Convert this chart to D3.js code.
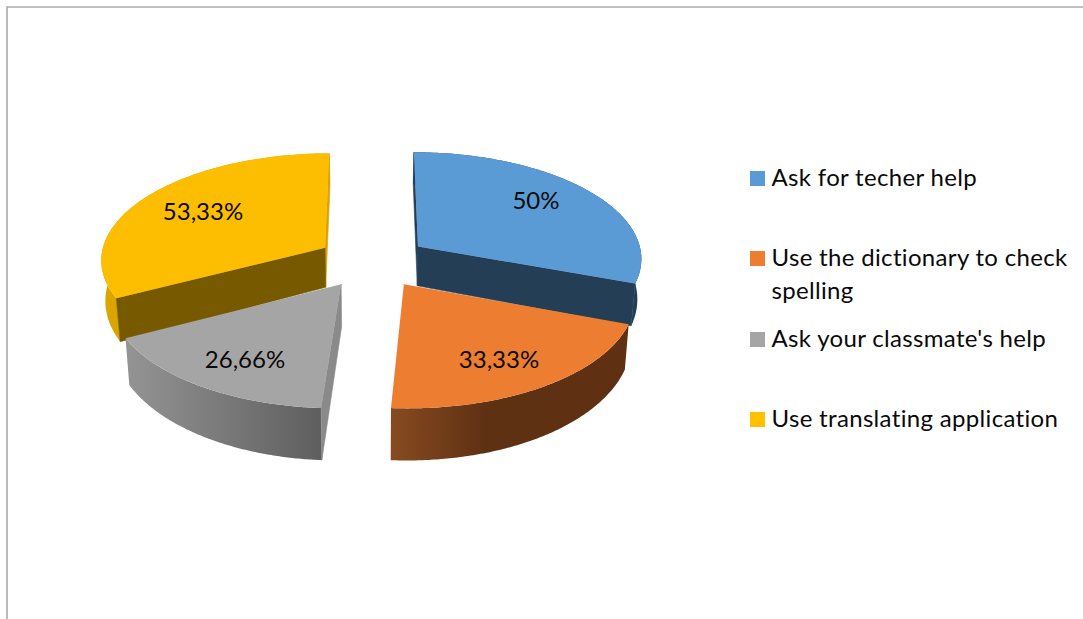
<!DOCTYPE html>
<html>
<head>
<meta charset="utf-8">
<script src="https://cdn.jsdelivr.net/npm/d3@7/dist/d3.min.js"></script>
<style>
  html, body { margin: 0; padding: 0; background: #fff; }
  svg { display: block; }
  text { font-family: Lato, "Open Sans", sans-serif; fill: #0a0a0a; }
</style>
</head>
<body>
<svg id="chart" width="1083" height="619"></svg>
<script>
// Survey answers, in clockwise slice order starting at twelve o'clock
const categories = [
  "Ask for techer help",
  "Use the dictionary to check spelling",
  "Ask your classmate's help",
  "Use translating application"
];
const values = [50, 33.33, 26.66, 53.33];

// Legend text, wrapped the way it is set in the key
const legendLines = [
  ["Ask for techer help"],
  ["Use the dictionary to check", "spelling"],
  ["Ask your classmate's help"],
  ["Use translating application"]
];

const topColors = ["#5b9bd5", "#ed7d31", "#a5a5a5", "#fdbd00"];
const legendColors = ["#5b9bd5", "#ed7d31", "#a5a5a5", "#ffc000"];
const innerWallColors = ["#243e56", "#5f3112", "#8a8a8a", "#775900"];
const outerWallStops = [
  [["0%", "#243e56"], ["100%", "#243e56"]],
  [["0%", "#874b20"], ["40%", "#5f3113"], ["100%", "#5f3112"]],
  [["0%", "#939393"], ["100%", "#5e5e5e"]],
  [["0%", "#dba500"], ["100%", "#dba500"]]
];

// Perspective model of the tilted disc
const explode = 0.25, perspective = 0.101;
const topPlane = { cx: 372.5, rx: 225, cy: 261.5, ry: 106.6, squeeze: 1 };
const basePlane = { cx: 372.5, rx: 225, cy: 302, ry: 115, squeeze: 0.985 };

function project(u, v, plane) {
  const s = 1 / (1 - perspective * v);
  return [plane.cx + plane.rx * u * s * plane.squeeze, plane.cy + plane.ry * v * s];
}

const svg = d3.select("#chart");
const defs = svg.append("defs");
const outline = d3.line();
const arcs = d3.pie().sort(null).value(d => d)(values);

// Chart frame: only the top and left edges fall inside the page
svg.append("path")
  .attr("d", "M7,619V7H1083")
  .attr("fill", "none")
  .attr("stroke", "#ababab")
  .attr("stroke-width", 1.6);

// Every slice has its own offset along its middle angle
const slices = arcs.map((a, i) => {
  const mid = (a.startAngle + a.endAngle) / 2;
  const ou = explode * Math.sin(mid), ov = -explode * Math.cos(mid);
  const point = (r, angle, plane) =>
    project(ou + r * Math.sin(angle), ov - r * Math.cos(angle), plane);
  const rim = plane => d3.range(0, 121).map(k => {
    const t = a.startAngle + (a.endAngle - a.startAngle) * k / 120;
    return point(1, t, plane);
  });
  return { a, i, point, rim };
});

const faces = svg.selectAll("g.slice")
  // Rear slices are painted first so the front ones overlap them
  .data([slices[0], slices[3], slices[2], slices[1]])
  .join("g")
  .attr("class", "slice");

faces.each(function (d) {
  const g = d3.select(this);
  const topRim = d.rim(topPlane), baseRim = d.rim(basePlane);
  const xs = baseRim.map(p => p[0]);

  const grad = defs.append("linearGradient")
    .attr("id", "wall" + d.i)
    .attr("gradientUnits", "userSpaceOnUse")
    .attr("x1", d3.min(xs)).attr("x2", d3.max(xs))
    .attr("y1", 0).attr("y2", 0);
  outerWallStops[d.i].forEach(s =>
    grad.append("stop").attr("offset", s[0]).attr("stop-color", s[1]));

  // Curved outer wall
  g.append("path")
    .attr("d", outline(topRim.concat(baseRim.slice().reverse())) + "Z")
    .attr("fill", `url(#wall${d.i})`);

  // Radial cut faces, painted over the wall's seam
  const wall = angle => [
    d.point(0, angle, topPlane), d.point(1, angle, topPlane),
    d.point(1, angle, basePlane), d.point(0, angle, basePlane)
  ];
  const cut = [];
  if (d.i === 0) cut.push(d.a.startAngle, d.a.endAngle);
  if (d.i === 2) cut.push(d.a.startAngle);
  if (d.i === 3) cut.push(d.a.endAngle, d.a.startAngle);
  cut.forEach((angle, k) => {
    const shade = (d.i === 3 && k === 0) ? "#d9a300" : innerWallColors[d.i];
    g.append("path")
      .attr("d", outline(wall(angle)) + "Z")
      .attr("fill", shade)
      .attr("stroke", shade)
      .attr("stroke-width", 0.6);
  });

  // Top face
  g.append("path")
    .attr("d", outline([d.point(0, 0, topPlane)].concat(topRim)) + "Z")
    .attr("fill", topColors[d.i]);
});

// Value labels, decimal comma as printed in the survey report
const commaFormat = v => String(v).replace(".", ",") + "%";
const labelSpots = [[536, 201], [499, 360], [245, 360], [203, 212]];
svg.selectAll("text.value")
  .data(values)
  .join("text")
  .attr("class", "value")
  .attr("x", (d, i) => labelSpots[i][0])
  .attr("y", (d, i) => labelSpots[i][1])
  .attr("dy", "0.35em")
  .attr("text-anchor", "middle")
  .attr("font-size", 24)
  .text(commaFormat);

// Legend
const legendX = 750, legendTextX = 771.5, swatch = 15, lineGap = 33;
const legendBaselines = [186, 266, 347, 427];
const legend = svg.selectAll("g.key")
  .data(categories)
  .join("g")
  .attr("class", "key");
legend.append("rect")
  .attr("x", legendX)
  .attr("y", (d, i) => legendBaselines[i] - swatch)
  .attr("width", swatch)
  .attr("height", swatch)
  .attr("fill", (d, i) => legendColors[i]);
legend.each(function (d, i) {
  d3.select(this).selectAll("text")
    .data(legendLines[i])
    .join("text")
    .attr("x", legendTextX)
    .attr("y", (t, k) => legendBaselines[i] + k * lineGap)
    .attr("font-size", 24)
    .attr("letter-spacing", 0.33)
    .text(t => t);
});
</script>
</body>
</html>
